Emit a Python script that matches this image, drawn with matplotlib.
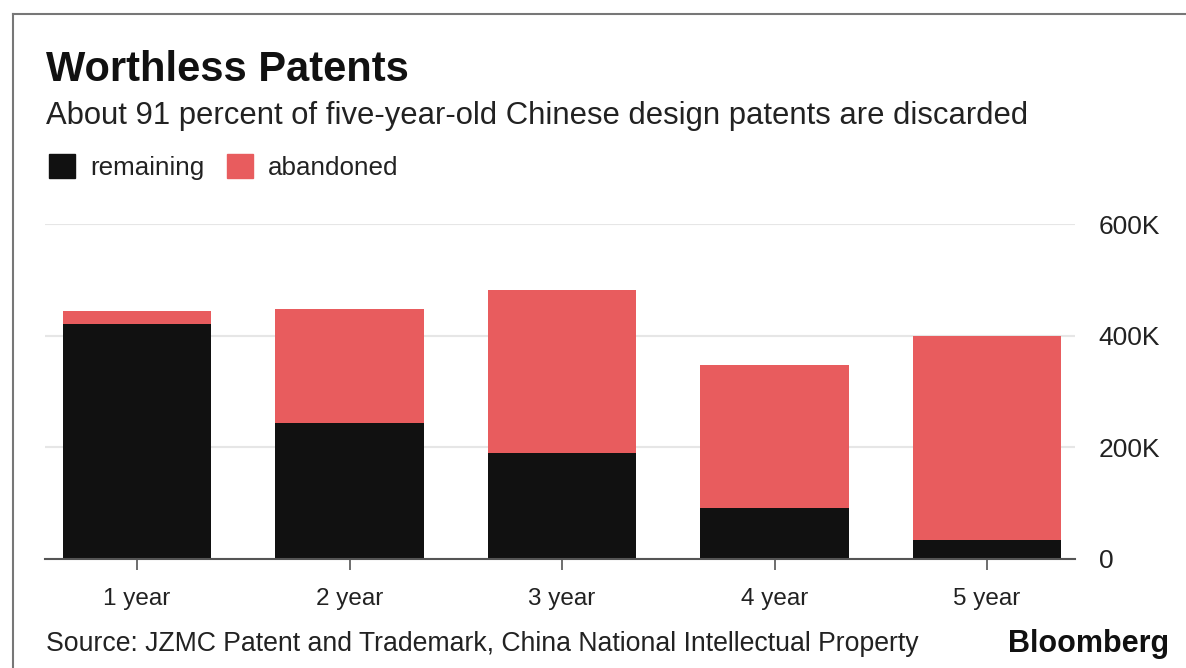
import matplotlib
matplotlib.use("Agg")
import matplotlib.pyplot as plt
from matplotlib.patches import Rectangle
from matplotlib.lines import Line2D

categories = ["1 year", "2 year", "3 year", "4 year", "5 year"]
remaining = [420, 244, 189, 90, 34]          # thousands
abandoned = [24, 203, 292, 257, 366]         # thousands
yticks = [0, 200, 400, 600]
ytick_labels = ["0", "200K", "400K", "600K"]

BLACK = "#111111"
RED = "#E85C5E"
FONT = ["Liberation Sans", "DejaVu Sans"]
plt.rcParams["font.family"] = FONT

W, H = 1186, 668
fig = plt.figure(figsize=(W / 100, H / 100), dpi=100)

def fx(px):
    return px / W

def fy(py):
    return 1 - py / H

# frame
fig.add_artist(Line2D([fx(13), fx(13)], [fy(14), 0], color="#777777", lw=1.5))
fig.add_artist(Line2D([fx(13), 1], [fy(14), fy(14)], color="#777777", lw=1.5))

# axes: left 45, right 1075, top 224 (600K), bottom 558.7 (0)
ax = fig.add_axes([fx(45), fy(558.7), fx(1075 - 45), (558.7 - 224) / H])
x = list(range(len(categories)))
ax.bar(x, remaining, width=0.70, color=BLACK, zorder=3)
ax.bar(x, abandoned, width=0.70, bottom=remaining, color=RED, zorder=3)
ax.set_xlim(-0.433, 4.414)
ax.set_ylim(0, 600)
ax.set_yticks(yticks)
ax.set_yticklabels(ytick_labels)
ax.yaxis.tick_right()
ax.tick_params(axis="y", length=0, pad=17, labelsize=19, labelcolor="#222222")
ax.set_xticks(x)
ax.set_xticklabels(categories)
ax.tick_params(axis="x", length=8, width=1.2, color="#555555", pad=13,
               labelsize=17.5, labelcolor="#222222")
for s in ["left", "right", "top"]:
    ax.spines[s].set_visible(False)
ax.spines["bottom"].set_color("#555555")
ax.spines["bottom"].set_linewidth(1.5)
ax.spines["bottom"].set_zorder(4)
ax.grid(axis="y", color="#E6E6E6", lw=1.5, zorder=0)
ax.set_axisbelow(True)
for lab in ax.get_yticklabels():
    lab.set_horizontalalignment("left")

# title/subtitle
fig.text(fx(46), fy(70), "Worthless Patents", fontsize=30, fontweight="bold",
         color="#111111", va="center", ha="left")
fig.text(fx(46), fy(116), "About 91 percent of five-year-old Chinese design patents are discarded",
         fontsize=22.3, color="#222222", va="center", ha="left")

# legend
fig.add_artist(Rectangle((fx(49), fy(178)), fx(26), 24 / H, color=BLACK))
fig.text(fx(90), fy(168), "remaining", fontsize=18.7, color="#222222", va="center", ha="left")
fig.add_artist(Rectangle((fx(227), fy(178)), fx(26), 24 / H, color=RED))
fig.text(fx(268), fy(168), "abandoned", fontsize=18.7, color="#222222", va="center", ha="left")

# footer
fig.text(fx(46), fy(644), "Source: JZMC Patent and Trademark, China National Intellectual Property",
         fontsize=19.2, color="#222222", va="center", ha="left")
fig.text(fx(1169), fy(644), "Bloomberg", fontsize=22, fontweight="bold",
         color="#111111", va="center", ha="right")

fig.savefig("out.png", dpi=100)
